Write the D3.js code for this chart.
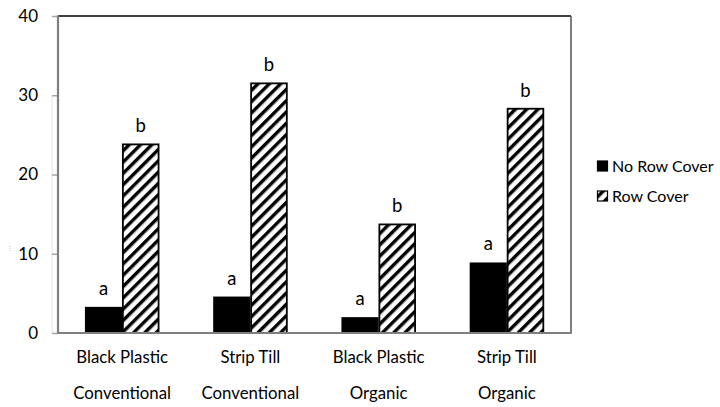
<!DOCTYPE html>
<html><head><meta charset="utf-8">
<script src="https://cdn.jsdelivr.net/npm/d3@7"></script>
<style>body{margin:0;background:#fff}svg{display:block}text{font-family:Lato,"Open Sans",sans-serif;fill:#000}</style>
</head><body><svg id="c" width="720" height="407"></svg>
<script>
const categoriesLine1 = ["Black Plastic", "Strip Till", "Black Plastic", "Strip Till"];
const categoriesLine2 = ["Conventional", "Conventional", "Organic", "Organic"];
const seriesNames = ["No Row Cover", "Row Cover"];
const noRowCover = [3.3, 4.6, 2.0, 8.9];
const rowCover = [23.8, 31.5, 13.7, 28.3];
const noRowCoverLetters = ["a", "a", "a", "a"];
const rowCoverLetters = ["b", "b", "b", "b"];
const yTicks = [0, 10, 20, 30, 40];

const svg = d3.select("#c");
const L = 58, R = 571, T = 16, B = 333;
const defs = svg.append("defs");
const pat = defs.append("pattern").attr("id","hatch").attr("patternUnits","userSpaceOnUse")
  .attr("width",8).attr("height",8).attr("patternTransform","rotate(45)");
pat.append("rect").attr("width",8).attr("height",8).attr("fill","#fff");
pat.append("rect").attr("x",0).attr("width",3.4).attr("height",8).attr("fill","#000");

const idx = d3.range(categoriesLine1.length);
const x0 = d3.scaleBand().domain(idx).range([L, R]).paddingInner(0.42).paddingOuter(0.21);
const x1 = d3.scaleBand().domain([0,1]).range([0, x0.bandwidth()]);
const y = d3.scaleLinear().domain([0, 40]).range([B, T]);

// faint line
svg.append("line").attr("x1",52).attr("x2",52).attr("y1",y(30)).attr("y2",B).attr("stroke","#e4e4e4").attr("stroke-width",1);

// y axis
const yAxis = svg.append("g").attr("transform",`translate(${L},0)`)
  .call(d3.axisLeft(y).tickValues(yTicks).tickSize(6).tickPadding(14).tickFormat(d3.format("d")));
yAxis.select(".domain").remove();
yAxis.selectAll(".tick line").attr("stroke","#a6a6a6").attr("stroke-width",1.5);
yAxis.selectAll(".tick text").attr("font-size",17).attr("font-family","Lato").attr("fill","#000");

// bars
const series = [noRowCover, rowCover];
const letters = [noRowCoverLetters, rowCoverLetters];
const g = svg.append("g");
series.forEach((vals, s) => {
  g.selectAll(null).data(idx).enter().append("rect")
    .attr("x", i => x0(i) + x1(s) + (s===1?0.75:0))
    .attr("width", x1.bandwidth() - (s===1?1.5:0))
    .attr("y", i => y(vals[i]))
    .attr("height", i => B - y(vals[i]))
    .attr("fill", s===0 ? "#000" : "url(#hatch)")
    .attr("stroke", s===1 ? "#000" : "none")
    .attr("stroke-width", 1.8);
  g.selectAll(null).data(idx).enter().append("text")
    .attr("x", i => x0(i) + x1(s) + x1.bandwidth()/2)
    .attr("y", i => y(vals[i]) - 12)
    .attr("text-anchor","middle").attr("font-size",18.5)
    .text(i => letters[s][i]);
});

// frame
svg.append("line").attr("x1",L).attr("x2",R).attr("y1",T).attr("y2",T).attr("stroke","#000").attr("stroke-width",1.5);
svg.append("line").attr("x1",R).attr("x2",R).attr("y1",T).attr("y2",B).attr("stroke","#555").attr("stroke-width",1.5);
svg.append("line").attr("x1",L).attr("x2",L).attr("y1",T-0.75).attr("y2",B+1).attr("stroke","#7f7f7f").attr("stroke-width",2.2);
svg.append("line").attr("x1",L).attr("x2",R+0.75).attr("y1",B).attr("y2",B).attr("stroke","#7f7f7f").attr("stroke-width",2);

// x labels
const xl = svg.append("g");
xl.selectAll(null).data(idx).enter().append("text")
  .attr("x", i => x0(i) + x0.bandwidth()/2).attr("y", 363)
  .attr("text-anchor","middle").attr("font-size",16.8).text(i => categoriesLine1[i]);
xl.selectAll(null).data(idx).enter().append("text")
  .attr("x", i => x0(i) + x0.bandwidth()/2).attr("y", 399)
  .attr("text-anchor","middle").attr("font-size",16.8).text(i => categoriesLine2[i]);

// tiny axis title mark
svg.append("text").attr("x",10).attr("y",251).attr("font-size",7).attr("text-anchor","middle").style("fill","#999").text("⁝");

// legend
const lg = svg.append("g");
seriesNames.forEach((n, s) => {
  const cy = 166 + s*30;
  lg.append("rect").attr("x",597.5).attr("y",cy-5).attr("width",10).attr("height",10)
    .attr("fill", s===0 ? "#000" : "url(#hatch)").attr("stroke","#000").attr("stroke-width",1.2);
  lg.append("text").attr("x",612).attr("y",cy).attr("dy","0.35em").attr("font-size",16).text(n);
});
</script></body></html>
